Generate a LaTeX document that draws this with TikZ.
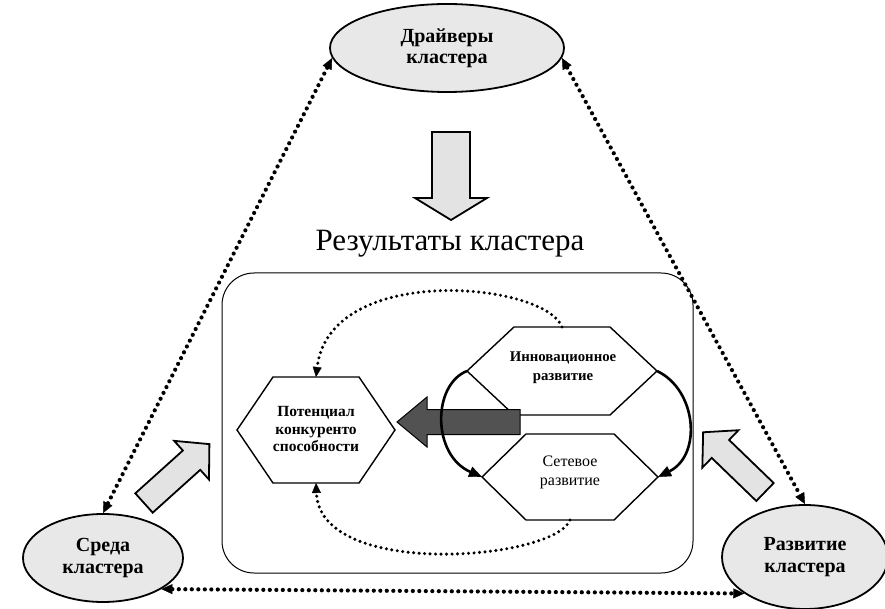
\documentclass[tikz,border=0pt]{standalone}
\usepackage{fontspec}
\setmainfont{Liberation Serif}
\usetikzlibrary{arrows.meta,shapes.geometric}
\newcommand\blockarr[8]{%
  \begin{scope}[shift={(#1,#2)},rotate=#3]
    \draw[#8] (0,-#5/2) -- (#4-#7,-#5/2) -- (#4-#7,-#6/2) -- (#4,0)
      -- (#4-#7,#6/2) -- (#4-#7,#5/2) -- (0,#5/2) -- cycle;
  \end{scope}}
\begin{document}
\begin{tikzpicture}[x=1pt,y=-1pt,
  cloud/.style={ellipse, draw, line width=1.8pt, fill=gray!18, align=center,
    inner sep=0pt, font=\fontsize{20}{21.5}\selectfont\bfseries},
  bigdots/.style={line width=4.2pt, dash pattern=on 0pt off 6.5pt, line cap=round,
    {Triangle[length=11pt,width=10pt,line width=0.4pt]}-{Triangle[length=11pt,width=10pt,line width=0.4pt]}},
  smalldots/.style={line width=3.4pt, dash pattern=on 0pt off 5.5pt, line cap=round,
    -{Triangle[length=10pt,width=9pt,line width=0.4pt]}},
  bigarc/.style={line width=2.6pt, -{Triangle[length=13pt,width=11pt,line width=0.4pt]}},
  hexline/.style={line width=1.4pt, line join=miter},
  lightarrow/.style={line width=1.8pt, fill=gray!22, line join=miter},
  darkarrow/.style={line width=1pt, fill=black!68, line join=miter}]
\useasboundingbox (0,0) rectangle (885,609);

% outer ellipses
\node[cloud, minimum width=234, minimum height=88] (drv) at (447,48) {Драйверы\\кластера};
\node[cloud, minimum width=160, minimum height=88] (env) at (103,558) {Среда\\кластера};
\node[cloud, minimum width=166, minimum height=104] (dev) at (805,557) {Развитие\\кластера};

% outer dotted connectors
\draw[bigdots] (drv.185) -- (env.north);
\draw[bigdots] (drv.-5) -- (dev.north);
\draw[bigdots] (env.-28) -- (dev.211);

% down arrow and title
\blockarr{451}{132}{-90}{88}{38}{72}{22}{lightarrow}
\node[font=\fontsize{31}{36}\selectfont] (title) at (450,244) {Результаты кластера};

% results box
\node[draw, rounded corners=32pt, minimum width=471, minimum height=300, line width=1pt] (box) at (457.5,423) {};

% hexagons
\draw[hexline] (316-79,430) coordinate (P-l) -- (316-43,430-53) -- (316+43,430-53)
  -- (316+79,430) coordinate (P-r) -- (316+43,430+53) -- (316-43,430+53) -- cycle;
\coordinate (P-t) at (316,377); \coordinate (P-b) at (316,483);
\draw[hexline] (562-95,371) coordinate (I-l) -- (562-48,371-44) -- (562+48,371-44)
  -- (562+95,371) coordinate (I-r) -- (562+48,371+44) -- (562-48,371+44) -- cycle;
\coordinate (I-t) at (562,327); \coordinate (I-b) at (562,415);
\draw[hexline] (570-88,477) coordinate (S-l) -- (570-44,477-43) -- (570+44,477-43)
  -- (570+88,477) coordinate (S-r) -- (570+44,477+43) -- (570-44,477+43) -- cycle;
\coordinate (S-t) at (570,434); \coordinate (S-b) at (570,520);

\node[font=\fontsize{15.5}{17.8}\selectfont\bfseries, align=center] (Ptxt) at (316,429) {Потенциал\\конкуренто\\способности};
\node[font=\fontsize{14.8}{19}\selectfont\bfseries, align=center] (Itxt) at (563,368) {Инновационное\\развитие};
\node[font=\fontsize{16}{19}\selectfont, align=center] (Stxt) at (570,472) {Сетевое\\развитие};

% dark arrow
\blockarr{520}{422}{180}{123}{25}{50}{30}{darkarrow}

% curved arrows
\draw[bigarc] (I-l) .. controls (432,385) and (432,455) .. (S-l);
\draw[bigarc] (I-r) .. controls (697,390) and (702,455) .. (S-r);

% inner dotted
\draw[smalldots] (I-t) .. controls (545,282) and (330,262) .. (P-t);
\draw[smalldots] (S-b) .. controls (555,560) and (320,580) .. (P-b);

% side block arrows
\blockarr{144}{503}{42}{88}{26}{52}{24}{lightarrow}
\blockarr{765}{492}{136}{86}{25}{52}{24}{lightarrow}
\end{tikzpicture}
\end{document}
